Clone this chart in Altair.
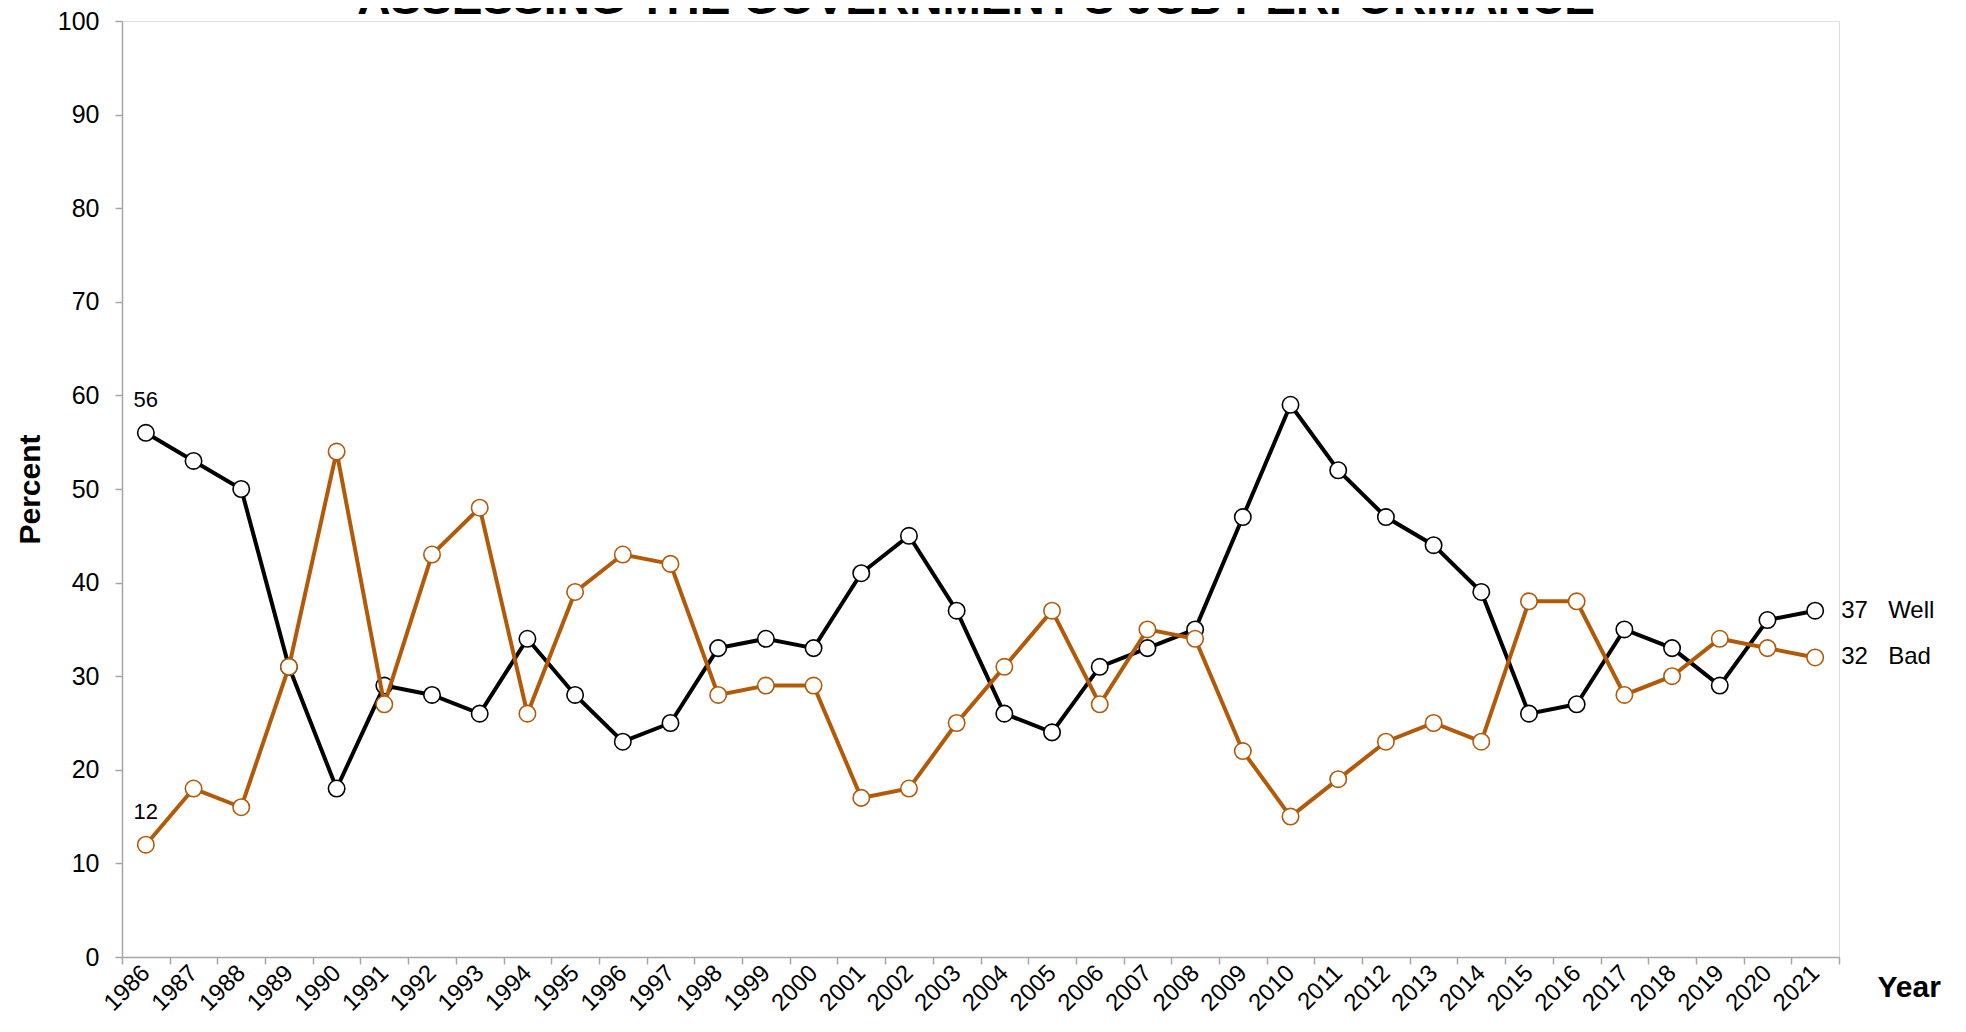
import altair as alt
import pandas as pd

title_text = "ASSESSING THE GOVERNMENT'S JOB PERFORMANCE"
years = list(range(1986, 2022))
well = [56, 53, 50, 31, 18, 29, 28, 26, 34, 28, 23, 25, 33, 34, 33, 41, 45, 37,
        26, 24, 31, 33, 35, 47, 59, 52, 47, 44, 39, 26, 27, 35, 33, 29, 36, 37]
bad = [12, 18, 16, 31, 54, 27, 43, 48, 26, 39, 43, 42, 28, 29, 29, 17, 18, 25,
       31, 37, 27, 35, 34, 22, 15, 19, 23, 25, 23, 38, 38, 28, 30, 34, 33, 32]
y_ticks = list(range(0, 101, 10))

W, H = 1717, 936
FONT = "Liberation Sans"
ORANGE = "#B35A08"
GREY = "#A6A6A6"

df_well = pd.DataFrame({"Year": years, "Percent": well, "Series": "Well"})
df_bad = pd.DataFrame({"Year": years, "Percent": bad, "Series": "Bad"})
df_first = pd.concat([df_well.iloc[[0]], df_bad.iloc[[0]]])
df_last = pd.concat([df_well.iloc[[-1]], df_bad.iloc[[-1]]])

x_enc = alt.X(
    "Year:O",
    scale=alt.Scale(type="band", paddingInner=0, paddingOuter=0),
    axis=alt.Axis(
        title="Year", titleFont=FONT, titleFontSize=30, titleFontWeight="bold",
        titleColor="black", titleX=1755, titleY=30, titleAlign="left",
        titleBaseline="middle", titleAngle=0,
        labelAngle=-45, labelAlign="right", labelBaseline="middle",
        labelFont=FONT, labelFontSize=24, labelColor="black", labelPadding=5,
        tickBand="extent", tickSize=7, tickColor=GREY, tickWidth=1.5,
        domainColor=GREY, domainWidth=1.5, grid=False, labelOverlap=False,
    ),
)
y_enc = alt.Y(
    "Percent:Q",
    scale=alt.Scale(domain=[0, 100], nice=False, zero=True),
    axis=alt.Axis(
        values=y_ticks, title="Percent", titleFont=FONT, titleFontSize=30,
        titleFontWeight="bold", titleColor="black", titleX=-92, titleY=H / 2,
        titleAlign="center", titleBaseline="middle",
        labelFont=FONT, labelFontSize=25, labelColor="black", labelPadding=16,
        tickSize=7, tickColor=GREY, tickWidth=1.5,
        domainColor=GREY, domainWidth=1.5, grid=False,
    ),
)


def series_layers(df, color):
    line = alt.Chart(df).mark_line(color=color, strokeWidth=4).encode(x=x_enc, y=y_enc)
    pts = alt.Chart(df).mark_point(
        shape="circle", filled=True, fill="white", stroke=color,
        strokeWidth=1.6, size=270, opacity=1,
    ).encode(x=x_enc, y=y_enc)
    return [line, pts]


first_labels = alt.Chart(df_first).mark_text(
    font=FONT, fontSize=22, color="black", dy=-33, align="center", baseline="middle"
).encode(x=x_enc, y=y_enc, text="Percent:Q")

last_values = alt.Chart(df_last).mark_text(
    font=FONT, fontSize=24, color="black", dx=26, align="left", baseline="middle"
).encode(x=x_enc, y=y_enc, text="Percent:Q")

last_names = alt.Chart(df_last).mark_text(
    font=FONT, fontSize=24, color="black", dx=73, align="left", baseline="middle"
).encode(x=x_enc, y=y_enc, text="Series:N")

title = alt.Chart(pd.DataFrame({"t": [title_text]})).mark_text(
    font=FONT, fontSize=46, fontWeight="bold", color="black",
    align="center", baseline="alphabetic",
).encode(x=alt.value(854), y=alt.value(-7), text="t:N")

layers = (series_layers(df_well, "black") + series_layers(df_bad, ORANGE)
          + [first_labels, last_values, last_names, title])

chart = alt.layer(*layers).properties(
    width=W, height=H,
    autosize=alt.AutoSizeParams(type="none"),
    padding={"left": 114, "top": 13, "right": 110, "bottom": 62},
).configure_view(stroke=None).configure(background="white")

chart.save("out.html", embed_options={"renderer": "svg", "actions": False})
